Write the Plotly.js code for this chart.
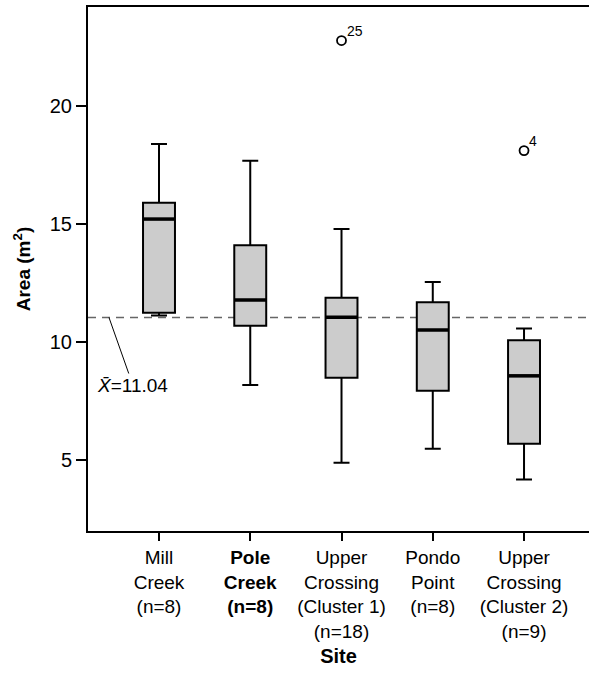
<!DOCTYPE html>
<html>
<head>
<meta charset="utf-8">
<script src="https://cdn.plot.ly/plotly-3.0.1.min.js"></script>
<style>html,body{margin:0;padding:0;background:#fff;}</style>
</head>
<body>
<div id="chart" style="width:589px;height:673px;"></div>
<script>
// Data
const sites = ["Mill Creek", "Pole Creek", "Upper Crossing (Cluster 1)", "Pondo Point", "Upper Crossing (Cluster 2)"];
const tickLabels = ["Mill<br>Creek<br>(n=8)", "<b>Pole<br>Creek<br>(n=8)</b>", "Upper<br>Crossing<br>(Cluster 1)<br>(n=18)", "Pondo<br>Point<br>(n=8)", "Upper<br>Crossing<br>(Cluster 2)<br>(n=9)"];
const lowerWhisker = [11.13, 8.18, 4.89, 5.48, 4.18];
const q1 = [11.24, 10.69, 8.49, 7.94, 5.69];
const median = [15.21, 11.78, 11.05, 10.51, 8.57];
const q3 = [15.90, 14.10, 11.88, 11.69, 10.08];
const upperWhisker = [18.39, 17.68, 14.79, 12.54, 10.58];
const outlierSite = ["Upper Crossing (Cluster 1)", "Upper Crossing (Cluster 2)"];
const outlierValue = [22.77, 18.11];
const outlierLabel = ["25", "4"];
const grandMean = 11.04;

const boxWidth = 0.35;
const font = "Liberation Sans, Arial, sans-serif";

const traces = [
  {
    type: "box",
    x: sites,
    q1: q1, median: median, q3: q3,
    lowerfence: lowerWhisker, upperfence: upperWhisker,
    boxpoints: false,
    width: boxWidth,
    whiskerwidth: 0.5,
    fillcolor: "#cccccc",
    line: {color: "#000", width: 2},
    hoverinfo: "skip",
    showlegend: false
  },
  {
    type: "scatter",
    mode: "markers",
    x: outlierSite,
    y: outlierValue,
    marker: {symbol: "circle-open", size: 9, color: "#000", line: {width: 1.8, color: "#000"}},
    showlegend: false,
    hoverinfo: "skip"
  }
];

const shapes = [
  {type: "line", xref: "paper", yref: "y", x0: 0, x1: 1, y0: grandMean, y1: grandMean,
   line: {color: "#666", width: 1.6, dash: "8px,6px"}, layer: "below"}
];
median.forEach((m, i) => {
  shapes.push({type: "line", xref: "x", yref: "y", x0: i - boxWidth / 2, x1: i + boxWidth / 2,
    y0: m, y1: m, line: {color: "#000", width: 3.5}});
});

const annotations = [
  {x: -0.548, y: grandMean, xref: "x", yref: "y",
   text: "<i>X\u0304</i>=11.04", showarrow: true, arrowhead: 0, arrowwidth: 1, arrowcolor: "#000",
   ax: 24, ay: 68, font: {family: font, size: 19, color: "#000"}, standoff: 0}
];
outlierLabel.forEach((lab, i) => {
  annotations.push({x: outlierSite[i], y: outlierValue[i], xref: "x", yref: "y", text: lab,
    showarrow: false, xanchor: "left", yanchor: "bottom", xshift: 3, yshift: 0,
    font: {family: font, size: 14, color: "#000"}});
});

const layout = {
  width: 589, height: 673,
  margin: {l: 88, r: 0, t: 7, b: 142},
  paper_bgcolor: "#fff", plot_bgcolor: "#fff",
  font: {family: font, size: 19, color: "#000"},
  showlegend: false,
  xaxis: {
    type: "category",
    categoryarray: sites,
    tickvals: sites,
    ticktext: tickLabels,
    range: [-0.778, 4.712],
    showline: true, linecolor: "#000", linewidth: 2, mirror: true,
    ticks: "outside", ticklen: 8, tickwidth: 2, tickcolor: "#000",
    showgrid: false, zeroline: false,
    tickfont: {family: font, size: 19},
    title: {text: "<b>Site</b>", font: {family: font, size: 20}, standoff: 8},
    automargin: false
  },
  yaxis: {
    range: [2.0, 24.19],
    tickvals: [5, 10, 15, 20],
    showline: true, linecolor: "#000", linewidth: 2,
    ticks: "outside", ticklen: 10, tickwidth: 2, tickcolor: "#000",
    showgrid: false, zeroline: false,
    tickfont: {family: font, size: 20},
    title: {text: "<b>Area (m<sup>2</sup>)</b>", font: {family: font, size: 19}, standoff: 14},
    automargin: false
  },
  shapes: shapes,
  annotations: annotations
};

Plotly.newPlot("chart", traces, layout, {displayModeBar: false, staticPlot: true});
</script>
</body>
</html>
